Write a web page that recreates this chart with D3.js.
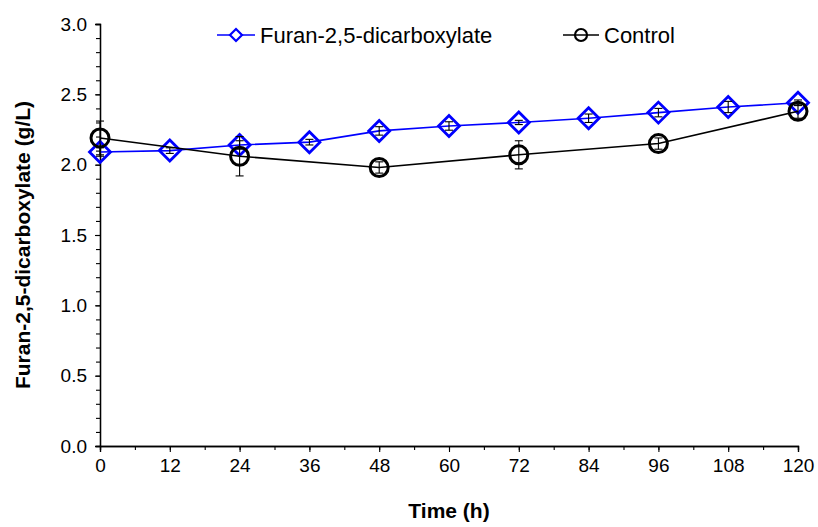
<!DOCTYPE html>
<html><head><meta charset="utf-8">
<script src="https://cdn.jsdelivr.net/npm/d3@7"></script>
<style>body{margin:0;background:#fff}svg{display:block}text{font-family:"Liberation Sans",Arial,sans-serif}</style>
</head><body><svg id="c" width="818" height="527"></svg>
<script>
const timeFDC = [0,12,24,36,48,60,72,84,96,108,120];
const fdcValues = [2.09,2.10,2.14,2.16,2.24,2.275,2.30,2.33,2.37,2.41,2.44];
const fdcErrors = [0.03,0.02,0.03,0.02,0.03,0.03,0.015,0.03,0.03,0.04,0.02];
const timeControl = [0,24,48,72,96,120];
const controlValues = [2.19,2.06,1.98,2.07,2.15,2.38];
const controlErrors = [0.12,0.14,0.04,0.10,0.04,0.05];
const xTicks = [0,12,24,36,48,60,72,84,96,108,120];
const yTicks = [0,0.5,1,1.5,2,2.5,3];
const seriesNames = ["Furan-2,5-dicarboxylate","Control"];

const svg = d3.select("#c");
const x = d3.scaleLinear().domain([0,120]).range([100,798]);
const y = d3.scaleLinear().domain([0,3]).range([446,24]);

// axes
const xMinor = d3.range(0,121,6);
const yMinor = d3.range(0,31,1).map(d=>d/10);
const gx = svg.append("g").attr("transform","translate(0,446)");
gx.call(d3.axisBottom(x).tickValues(xMinor).tickSize(4).tickFormat(""));
const gx2 = svg.append("g").attr("transform","translate(0,446)");
gx2.call(d3.axisBottom(x).tickValues(xTicks).tickSize(6).tickPadding(7).tickFormat(d3.format("d")));
const gy = svg.append("g").attr("transform","translate(100,0)");
gy.call(d3.axisLeft(y).tickValues(yMinor).tickSize(4).tickFormat(""));
const gy2 = svg.append("g").attr("transform","translate(100,0)");
gy2.call(d3.axisLeft(y).tickValues(yTicks).tickSize(5).tickPadding(8).tickFormat(d3.format(".1f")));
[gx,gx2,gy,gy2].forEach(g=>{
  g.selectAll(".domain").attr("stroke","#000").attr("stroke-width",1.3);
  g.selectAll(".tick line").attr("stroke","#000").attr("stroke-width",1.1);
  g.selectAll(".tick text").attr("font-size",19).attr("fill","#000");
});

svg.append("text").attr("x",449).attr("y",518).attr("text-anchor","middle")
  .attr("font-size",21).attr("font-weight","bold").text("Time (h)");
svg.append("text").attr("transform","translate(30,245) rotate(-90)").attr("text-anchor","middle")
  .attr("font-size",21).attr("font-weight","bold").text("Furan-2,5-dicarboxylate (g/L)");

const line = d3.line().x(d=>x(d[0])).y(d=>y(d[1]));
const fdc = timeFDC.map((t,i)=>[t,fdcValues[i],fdcErrors[i]]);
const ctl = timeControl.map((t,i)=>[t,controlValues[i],controlErrors[i]]);

function errBars(data){
  const g = svg.append("g").attr("stroke","#000").attr("stroke-width",1.1);
  data.forEach(d=>{
    const cx = x(d[0]);
    g.append("line").attr("x1",cx).attr("x2",cx).attr("y1",y(d[1]-d[2])).attr("y2",y(d[1]+d[2]));
    g.append("line").attr("x1",cx-4).attr("x2",cx+4).attr("y1",y(d[1]-d[2])).attr("y2",y(d[1]-d[2]));
    g.append("line").attr("x1",cx-4).attr("x2",cx+4).attr("y1",y(d[1]+d[2])).attr("y2",y(d[1]+d[2]));
  });
}
const diamond = (cx,cy,r)=>`M${cx},${cy-r}L${cx+r},${cy}L${cx},${cy+r}L${cx-r},${cy}Z`;

// FDC series
svg.append("path").datum(fdc).attr("d",line).attr("fill","none").attr("stroke","#0000ff").attr("stroke-width",1.6);
svg.append("g").selectAll("path").data(fdc).join("path")
  .attr("d",d=>diamond(x(d[0]),y(d[1]),10.5)).attr("fill","none").attr("stroke","#0000ff").attr("stroke-width",2.8);
errBars(fdc);

// Control series
svg.append("path").datum(ctl).attr("d",line).attr("fill","none").attr("stroke","#000").attr("stroke-width",1.6);
errBars(ctl);
svg.append("g").selectAll("circle").data(ctl).join("circle")
  .attr("cx",d=>x(d[0])).attr("cy",d=>y(d[1])).attr("r",9).attr("fill","none").attr("stroke","#000").attr("stroke-width",3);

// legend
const lg = svg.append("g");
lg.append("line").attr("x1",217).attr("x2",255).attr("y1",35).attr("y2",35).attr("stroke","#0000ff").attr("stroke-width",1.6);
lg.append("path").attr("d",diamond(236,35,6)).attr("fill","#fff").attr("stroke","#0000ff").attr("stroke-width",2.2);
lg.append("text").attr("x",260).attr("y",43).attr("font-size",22).text(seriesNames[0]);
lg.append("line").attr("x1",563).attr("x2",599).attr("y1",35).attr("y2",35).attr("stroke","#000").attr("stroke-width",1.6);
lg.append("circle").attr("cx",581).attr("cy",35).attr("r",6).attr("fill","none").attr("stroke","#000").attr("stroke-width",2.2);
lg.append("text").attr("x",604).attr("y",43).attr("font-size",22).text(seriesNames[1]);
</script></body></html>
